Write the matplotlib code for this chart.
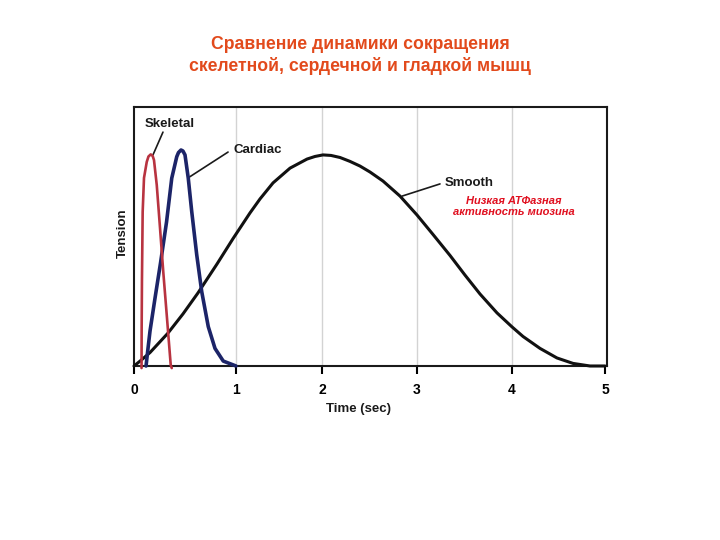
import matplotlib
matplotlib.use('Agg')
import numpy as np
from matplotlib import pyplot as plt

plt.rcParams['font.family'] = ['Liberation Sans', 'DejaVu Sans']

# кривые: время (с) и напряжение (0..100 = верх рамки)
skeletal_t = [0.074, 0.075, 0.078, 0.085, 0.098, 0.125, 0.142, 0.164, 0.183, 0.196,
              0.223, 0.255, 0.287, 0.321, 0.360, 0.370]
skeletal_y = [-0.8, 13.9, 33.2, 59.5, 72.6, 78.8, 80.9, 81.7, 81.1, 79.5,
              69.9, 53.3, 36.3, 19.7, 0.4, -0.8]

cardiac_t = [0.118, 0.135, 0.157, 0.206, 0.260, 0.319, 0.370, 0.419, 0.436, 0.461,
             0.480, 0.500, 0.532, 0.566, 0.615, 0.664, 0.728, 0.794, 0.875, 0.974, 1.0]
cardiac_y = [0, 6.0, 13.5, 26.2, 39.8, 55.6, 72.5, 80.8, 82.4, 83.4,
             83.0, 81.5, 72.5, 59.6, 42.9, 28.7, 15.2, 6.8, 1.9, 0.4, 0]

smooth_t = [0.0, 0.078, 0.157, 0.333, 0.480, 0.627, 0.814, 0.971, 1.162, 1.278,
            1.429, 1.626, 1.823, 1.915, 2.007, 2.092, 2.188, 2.293, 2.399, 2.505,
            2.643, 2.823, 3.003, 3.171, 3.350, 3.508, 3.666, 3.845, 4.003, 4.121,
            4.303, 4.485, 4.657, 4.839, 5.0]
smooth_y = [0, 2.5, 5.2, 12.7, 20.1, 28.2, 39.4, 49.2, 59.1, 64.5,
            70.7, 76.4, 79.9, 80.9, 81.5, 81.3, 80.5, 79.0, 77.2, 74.9,
            71.4, 65.6, 58.3, 50.8, 42.7, 35.1, 27.8, 20.5, 15.1, 11.4,
            6.8, 3.1, 1.0, 0, 0]

x_ticks = [0, 1, 2, 3, 4, 5]
# на исходной картинке шкала времени неравномерная: положение делений в пикселях
tick_px = [134, 236, 322.3, 416.7, 511.7, 605, 698.3]

title_lines = ['Сравнение динамики сокращения', 'скелетной, сердечной и гладкой мышц']
note = 'Низкая АТФазная\nактивность миозина'


def fwd(t):
    return np.interp(t, x_ticks + [6], tick_px)


def inv(p):
    return np.interp(p, tick_px, x_ticks + [6])


if __name__ == '__main__':
    fig = plt.figure(figsize=(7.2, 5.4), dpi=100)
    ax = fig.add_axes([134 / 720, 1 - 366 / 540, 473 / 720, 259 / 540])
    ax.set_xscale('function', functions=(fwd, inv))

    for x in x_ticks[1:-1]:
        ax.axvline(x, color='#d3d3d3', lw=1, zorder=0)

    line_kw = dict(clip_on=False, solid_joinstyle='round', solid_capstyle='round')
    ax.plot(smooth_t, smooth_y, color='#111111', lw=2.2, zorder=3, **line_kw)
    ax.plot(cardiac_t, cardiac_y, color='#1c2468', lw=2.6, zorder=4, **line_kw)
    ax.plot(skeletal_t, skeletal_y, color='#b83340', lw=1.9, zorder=5, **line_kw)

    ax.set_xlim(0, 5.021)
    ax.set_ylim(0, 100)
    ax.set_xticks(x_ticks)
    ax.set_xticklabels([str(x) for x in x_ticks])
    ax.xaxis.set_minor_locator(plt.NullLocator())
    ax.set_yticks([])
    ax.tick_params(axis='x', direction='out', length=6, width=1.5, pad=6, labelsize=10)
    for lab in ax.get_xticklabels():
        lab.set_fontweight('bold')
    for s in ax.spines.values():
        s.set_linewidth(1.5)
        s.set_color('#1a1a1a')

    # подписи кривых и выноски
    kw = dict(fontsize=9.5, fontweight='bold', va='center', ha='left', color='#1a1a1a')
    lead = dict(arrowstyle='-', color='#1a1a1a', lw=1.2, shrinkA=0, shrinkB=0)
    ax.text(0.108, 93.4, 'Skeletal', **kw)
    ax.annotate('', xy=(0.186, 81.5), xytext=(0.284, 90.3), arrowprops=lead)
    ax.text(0.980, 83.4, 'Cardiac', **kw)
    ax.annotate('', xy=(0.529, 72.6), xytext=(0.922, 82.6), arrowprops=lead)
    ax.text(3.298, 70.7, 'Smooth', **kw)
    ax.annotate('', xy=(2.845, 65.6), xytext=(3.245, 70.3), arrowprops=lead)

    ax.text(4.024, 61.6, note, color='#e01020', fontsize=8, fontweight='bold',
            fontstyle='italic', ha='center', va='center', linespacing=1.1)

    fig.text(358 / 720, 1 - 409 / 540, 'Time (sec)', fontsize=9.5, fontweight='bold',
             ha='center', va='center', color='#1a1a1a')
    fig.text(123 / 720, 1 - 233 / 540, 'Tension', fontsize=9.5, fontweight='bold',
             rotation=90, ha='center', va='center', color='#1a1a1a')

    for line, base in zip(title_lines, [48.7, 71.3]):
        fig.text(0.5, 1 - base / 540, line, fontsize=12.7, fontweight='bold',
                 color='#e24a1c', ha='center', va='baseline')

    fig.savefig('out.png', dpi=100)
